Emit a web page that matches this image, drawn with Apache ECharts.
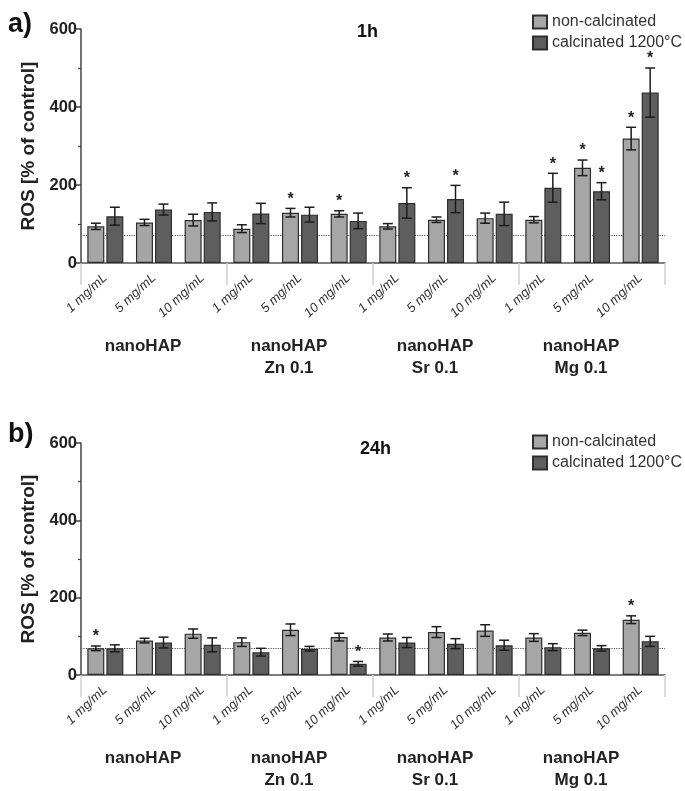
<!DOCTYPE html>
<html><head><meta charset="utf-8">
<script src="https://cdn.jsdelivr.net/npm/echarts@6/dist/echarts.min.js"></script>
<style>html,body{margin:0;padding:0;background:#fff}#c{width:685px;height:791px}</style>
</head><body><div id="c"></div>
<script>
// ---- data ----
const groups = ['nanoHAP', 'nanoHAP\nZn 0.1', 'nanoHAP\nSr 0.1', 'nanoHAP\nMg 0.1'];
const concentrations = ['1 mg/mL', '5 mg/mL', '10 mg/mL'];
const seriesNames = ['non-calcinated', 'calcinated 1200°C'];
const panelTitles = ['1h', '24h'];
const panelLetters = ['a)', 'b)'];
const yTicks = [0, 200, 400, 600];
const controlLevel = 70;

// 1h
const h1NonCalc    = [94, 104, 110,  88, 129, 126,  94, 111, 115, 111, 244, 319];
const h1NonCalcErr = [8, 8, 15,  10, 11, 8,  7, 7, 13,  8, 20, 29];
const h1NonCalcSig = [0, 0, 0,  0, 1, 1,  0, 0, 0,  0, 1, 1];
const h1Calc       = [120, 137, 131, 127, 124, 108, 154, 164, 126, 193, 184, 437];
const h1CalcErr    = [23, 14, 23,  26, 19, 20,  39, 35, 30,  37, 22, 63];
const h1CalcSig    = [0, 0, 0,  0, 0, 0,  1, 1, 0,  1, 1, 1];

// 24h
const h24NonCalc    = [69, 89, 107,  85, 117, 98,  97, 111, 115,  97, 109, 143];
const h24NonCalcErr = [6, 6, 12,  11, 15, 10,  9, 14, 15,  10, 7, 10];
const h24NonCalcSig = [1, 0, 0,  0, 0, 0,  0, 0, 0,  0, 0, 1];
const h24Calc       = [69, 84, 78,  59, 68, 29,  84, 81, 77,  72, 69, 87];
const h24CalcErr    = [9, 14, 18,  10, 6, 6,  13, 13, 13,  9, 7, 13];
const h24CalcSig    = [0, 0, 0,  0, 0, 1,  0, 0, 0,  0, 0, 0];

// ---- chart ----
const FONT = 'Liberation Sans, Arial, Helvetica, sans-serif';
const categories = [];
groups.forEach((g, gi) => concentrations.forEach(c => categories.push(gi + '|' + c)));

const panels = [
  {light: h1NonCalc, lightErr: h1NonCalcErr, lightSig: h1NonCalcSig, dark: h1Calc, darkErr: h1CalcErr, darkSig: h1CalcSig},
  {light: h24NonCalc, lightErr: h24NonCalcErr, lightSig: h24NonCalcSig, dark: h24Calc, darkErr: h24CalcErr, darkSig: h24CalcSig}
];
const gridTops = [29, 443];
const gridH = 234;
const BAR_W = 17;
const OFF = 9.5;
const colors = ['#a6a6a6', '#5e5e5e'];

function errRender(offsetPx) {
  return function (params, api) {
    const i = api.value(0), v = api.value(1), e = api.value(2), s = api.value(3);
    const top = api.coord([i, v + e]);
    const bot = api.coord([i, v - e]);
    const x = top[0] + offsetPx;
    const half = 5;
    const st = {stroke: '#1c1c1c', lineWidth: 1.5};
    const children = [
      {type: 'line', shape: {x1: x, y1: top[1], x2: x, y2: bot[1]}, style: st},
      {type: 'line', shape: {x1: x - half, y1: top[1], x2: x + half, y2: top[1]}, style: st},
      {type: 'line', shape: {x1: x - half, y1: bot[1], x2: x + half, y2: bot[1]}, style: st}
    ];
    if (s) {
      children.push({type: 'text', style: {text: '*', x: x, y: top[1] - 1, align: 'center', verticalAlign: 'bottom',
        font: 'bold 16px ' + FONT, fill: '#222'}});
    }
    return {type: 'group', children: children};
  };
}

const grid = [], xAxis = [], yAxis = [], series = [], legend = [], title = [];
panels.forEach((p, k) => {
  grid.push({left: 81, right: 20, top: gridTops[k], height: gridH});
  xAxis.push({
    type: 'category', gridIndex: k, data: categories, position: 'bottom',
    axisLine: {lineStyle: {color: '#555', width: 1.5}},
    axisTick: {alignWithLabel: true, interval: 0, length: 6, lineStyle: {color: '#444', width: 1.5}},
    axisLabel: {interval: 0, rotate: 43, fontStyle: 'italic', fontSize: 13, fontFamily: FONT, color: '#333', margin: 13,
      formatter: v => v.split('|')[1]}
  });
  xAxis.push({
    type: 'category', gridIndex: k, data: groups, position: 'bottom',
    axisLine: {show: false},
    axisTick: {show: true, interval: 0, length: 22, lineStyle: {color: '#cfcfcf', width: 1.5}},
    axisLabel: {interval: 0, fontWeight: 'bold', fontSize: 17, fontFamily: FONT, color: '#222', margin: 72, lineHeight: 22,
      padding: [0, 22, 0, 0]}
  });
  yAxis.push({
    type: 'value', gridIndex: k, min: yTicks[0], max: yTicks[yTicks.length - 1], interval: yTicks[1] - yTicks[0],
    axisLine: {show: true, lineStyle: {color: '#444', width: 1.5}},
    axisTick: {show: true, length: 5, lineStyle: {color: '#444', width: 1.5}},
    minorTick: {show: true, splitNumber: 2, length: 3, lineStyle: {color: '#444', width: 1.2}},
    splitLine: {show: false},
    axisLabel: {fontWeight: 'bold', fontSize: 16.5, fontFamily: FONT, color: '#222', margin: 4},
    name: 'ROS [% of control]', nameLocation: 'middle', nameGap: 36,
    nameTextStyle: {fontWeight: 'bold', fontSize: 19, fontFamily: FONT, color: '#222'}
  });
  const xi = k * 2;
  series.push({
    type: 'bar', name: seriesNames[0], xAxisIndex: xi, yAxisIndex: k, data: p.light, barWidth: BAR_W, barGap: '12%',
    itemStyle: {color: colors[0], borderColor: '#2e2e2e', borderWidth: 1.2},
    markLine: {silent: true, symbol: 'none', z: 1, label: {show: false},
      lineStyle: {type: 'dotted', color: '#555', width: 1.2}, data: [{yAxis: controlLevel}]}
  });
  series.push({
    type: 'bar', name: seriesNames[1], xAxisIndex: xi, yAxisIndex: k, data: p.dark, barWidth: BAR_W,
    itemStyle: {color: colors[1], borderColor: '#2e2e2e', borderWidth: 1.2}
  });
  series.push({
    type: 'custom', name: 'err-light-' + k, xAxisIndex: xi, yAxisIndex: k, z: 5,
    renderItem: errRender(-OFF),
    data: p.light.map((v, i) => [i, v, p.lightErr[i], p.lightSig[i]])
  });
  series.push({
    type: 'custom', name: 'err-dark-' + k, xAxisIndex: xi, yAxisIndex: k, z: 5,
    renderItem: errRender(OFF),
    data: p.dark.map((v, i) => [i, v, p.darkErr[i], p.darkSig[i]])
  });
  legend.push({
    orient: 'vertical', left: 527, top: k === 0 ? 9 : 429, itemWidth: 14, itemHeight: 13, itemGap: 5,
    icon: 'rect', data: seriesNames, selectedMode: false,
    textStyle: {fontSize: 16, fontFamily: FONT, color: '#333'}
  });
  title.push({text: panelLetters[k], left: 3, top: k === 0 ? 6 : 416,
    textStyle: {fontSize: 27, fontWeight: 'bold', fontFamily: FONT, color: '#111'}});
  title.push({text: panelTitles[k], left: k === 0 ? 352 : 355, top: k === 0 ? 18 : 435,
    textStyle: {fontSize: 18, fontWeight: 'bold', fontFamily: FONT, color: '#111'}});
});

const chart = echarts.init(document.getElementById('c'), null, {renderer: 'canvas'});
chart.setOption({animation: false, backgroundColor: '#fff', title, legend, grid, xAxis, yAxis, series});
</script>
</body></html>
